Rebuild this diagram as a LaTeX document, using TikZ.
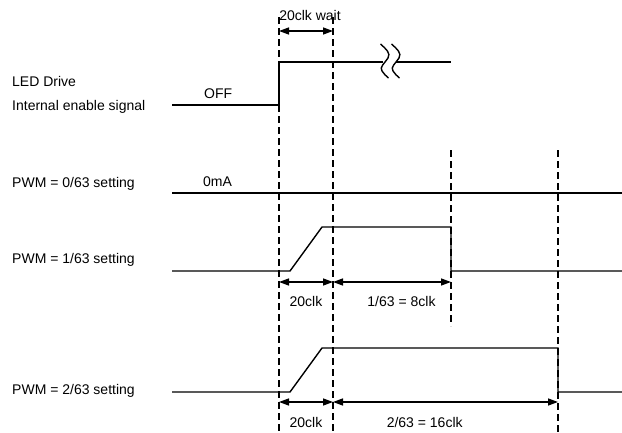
\documentclass[tikz,border=0pt]{standalone}
\usepackage{fontspec}
\setmainfont{Liberation Sans}
\usetikzlibrary{arrows.meta}
\begin{document}
\begin{tikzpicture}[x=1pt,y=-1pt,
  sig/.style={line width=1.4pt, line join=miter},
  guide/.style={line width=1.3pt, dash pattern=on 7pt off 4pt},
  dim/.style={line width=1.4pt, {Triangle[length=10pt,width=7pt]}-{Triangle[length=10pt,width=7pt]}},
  brk/.style={line width=1.4pt},
  lbl/.style={font=\fontsize{14pt}{16pt}\selectfont, inner sep=0pt, anchor=base west},
  clbl/.style={font=\fontsize{14pt}{16pt}\selectfont, inner sep=0pt, anchor=base}]
\useasboundingbox (0,0) rectangle (622,432);

% guide lines (dashed)
\coordinate (g1t) at (279,17);  \coordinate (g1b) at (279,432);
\coordinate (g2t) at (333,17);  \coordinate (g2b) at (333,432);
\coordinate (g3t) at (451,150); \coordinate (g3b) at (451,326);
\coordinate (g4t) at (558,150); \coordinate (g4b) at (558,432);
\draw[guide] (g1t) -- (g1b);
\draw[guide] (g2t) -- (g2b);
\draw[guide] (g3t) -- (g3b);
\draw[guide] (g4t) -- (g4b);

% 20clk wait
\coordinate (w1) at (279,31); \coordinate (w2) at (333,31);
\draw[dim] (w1) -- (w2);
\node[clbl] (twait) at (310,20) {20clk wait};

% LED drive internal enable signal
\node[lbl] (tled) at (12,86) {LED Drive};
\node[lbl] (tint) at (12,110) {Internal enable signal};
\node[lbl] (toff) at (204,98) {OFF};
\coordinate (l0) at (172,105);
\coordinate (l1) at (279,105);
\coordinate (l2) at (279,62);
\coordinate (l3) at (383,62);
\coordinate (l4) at (396,62);
\coordinate (l5) at (451,62);
\draw[sig] (l0) -- (l1) -- (l2) -- (l3);
\draw[sig] (l4) -- (l5);
% break symbol
\draw[brk] (380.5,44) .. controls (386,49) and (391,53) .. (388,58)
               .. controls (385,63) and (379,67) .. (382,71)
               .. controls (384,74) and (386,76) .. (388.5,78);
\draw[brk] (391.5,44) .. controls (397,49) and (402,53) .. (399,58)
               .. controls (396,63) and (390,67) .. (393,71)
               .. controls (395,74) and (397,76) .. (399.5,78);

% PWM = 0/63
\node[lbl] (tp0) at (12,187) {PWM = 0/63 setting};
\node[lbl] (t0ma) at (203,186) {0mA};
\coordinate (a0) at (172,193); \coordinate (a1) at (622,193);
\draw[sig] (a0) -- (a1);

% PWM = 1/63
\node[lbl] (tp1) at (12,263) {PWM = 1/63 setting};
\coordinate (b0) at (172,271);
\coordinate (b1) at (290,271);
\coordinate (b2) at (322,227);
\coordinate (b3) at (451,227);
\coordinate (b4) at (451,271);
\coordinate (b5) at (622,271);
\draw[sig] (b0) -- (b1) -- (b2) -- (b3) -- (b4) -- (b5);
\coordinate (c1) at (279,282); \coordinate (c2) at (333,282); \coordinate (c3) at (451,282);
\draw[dim] (c1) -- (c2);
\draw[dim] (c2) -- (c3);
\node[clbl] (t20a) at (306,306) {20clk};
\node[clbl] (t8) at (401.5,306) {1/63 = 8clk};

% PWM = 2/63
\node[lbl] (tp2) at (12,394) {PWM = 2/63 setting};
\coordinate (d0) at (172,392);
\coordinate (d1) at (290,392);
\coordinate (d2) at (322,348);
\coordinate (d3) at (558,348);
\coordinate (d4) at (558,392);
\coordinate (d5) at (622,392);
\draw[sig] (d0) -- (d1) -- (d2) -- (d3) -- (d4) -- (d5);
\coordinate (e1) at (279,402); \coordinate (e2) at (333,402); \coordinate (e3) at (558,402);
\draw[dim] (e1) -- (e2);
\draw[dim] (e2) -- (e3);
\node[clbl] (t20b) at (306,427) {20clk};
\node[clbl] (t16) at (424.7,427) {2/63 = 16clk};
\end{tikzpicture}
\end{document}
